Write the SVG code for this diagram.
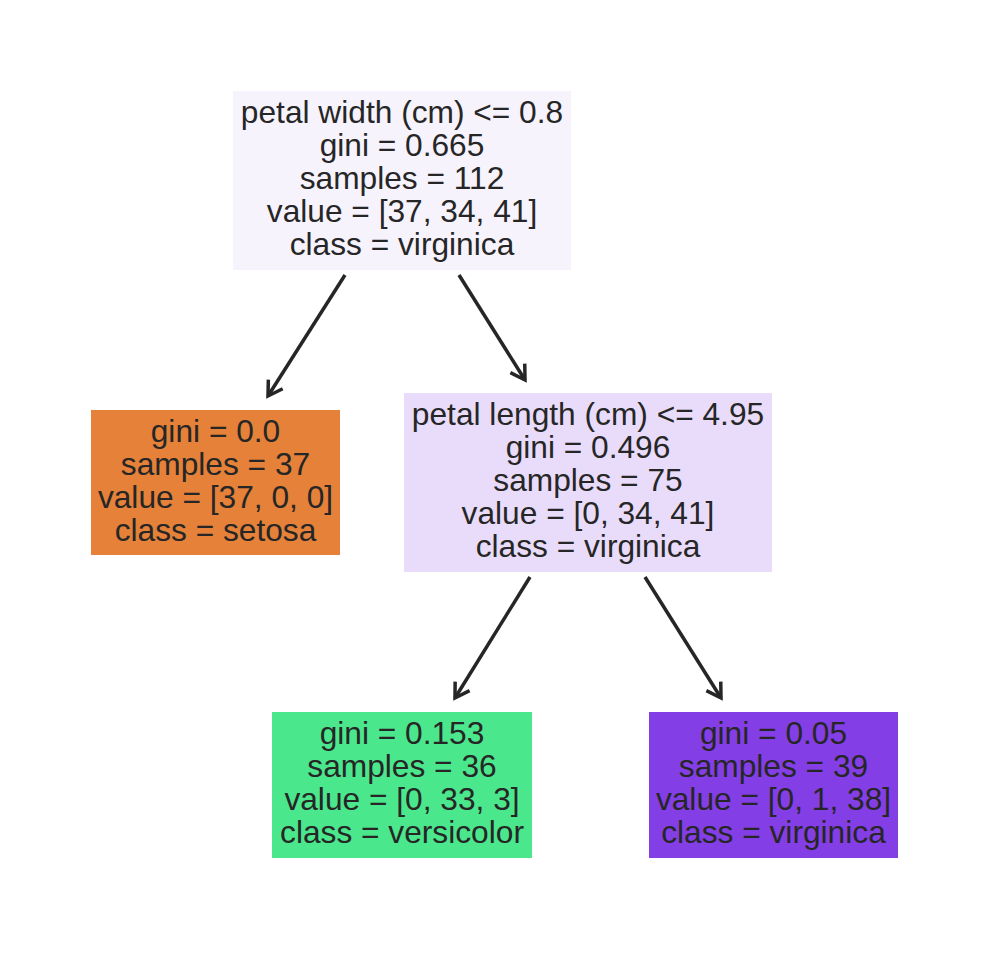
<svg xmlns="http://www.w3.org/2000/svg" width="990" height="966" viewBox="0 0 990 966">
<style>
  .lbl { font-family: "Liberation Sans", Arial, sans-serif; font-size: 31.7px; fill: #262626; text-anchor: middle; }
  .edge { stroke: #262626; stroke-width: 3.5; fill: none; }
</style>
<defs>
  <marker id="arr" markerUnits="userSpaceOnUse" markerWidth="40" markerHeight="40" viewBox="-20 -20 40 40" refX="0" refY="0" orient="auto">
    <path d="M-14,-8.5 L0,0 L-14,8.5" fill="none" stroke="#262626" stroke-width="3.5" stroke-linejoin="miter"/>
  </marker>
</defs>
<rect width="990" height="966" fill="#ffffff"/>
<g id="connectors">
  <line class="edge" x1="345" y1="275" x2="268" y2="396" marker-end="url(#arr)"/>
  <line class="edge" x1="459" y1="275" x2="525" y2="380" marker-end="url(#arr)"/>
  <line class="edge" x1="530" y1="577" x2="455" y2="698" marker-end="url(#arr)"/>
  <line class="edge" x1="645" y1="577" x2="721" y2="698" marker-end="url(#arr)"/>
</g>
<g id="node0">
  <rect x="233" y="91" width="338" height="179" fill="#f6f3fd"/>
  <text class="lbl" x="402" y="123">petal width (cm) &lt;= 0.8</text>
  <text class="lbl" x="402" y="156">gini = 0.665</text>
  <text class="lbl" x="402" y="189">samples = 112</text>
  <text class="lbl" x="402" y="222">value = [37, 34, 41]</text>
  <text class="lbl" x="402" y="255">class = virginica</text>
</g>
<g id="node1">
  <rect x="91" y="410" width="249" height="145" fill="#e58139"/>
  <text class="lbl" x="215.5" y="442">gini = 0.0</text>
  <text class="lbl" x="215.5" y="475">samples = 37</text>
  <text class="lbl" x="215.5" y="508">value = [37, 0, 0]</text>
  <text class="lbl" x="215.5" y="541">class = setosa</text>
</g>
<g id="node2">
  <rect x="404" y="393" width="368" height="179" fill="#e9dcfa"/>
  <text class="lbl" x="588" y="425">petal length (cm) &lt;= 4.95</text>
  <text class="lbl" x="588" y="458">gini = 0.496</text>
  <text class="lbl" x="588" y="491">samples = 75</text>
  <text class="lbl" x="588" y="524">value = [0, 34, 41]</text>
  <text class="lbl" x="588" y="557">class = virginica</text>
</g>
<g id="node3">
  <rect x="272" y="712" width="260" height="146" fill="#4be78c"/>
  <text class="lbl" x="402" y="744">gini = 0.153</text>
  <text class="lbl" x="402" y="777">samples = 36</text>
  <text class="lbl" x="402" y="810">value = [0, 33, 3]</text>
  <text class="lbl" x="402" y="843">class = versicolor</text>
</g>
<g id="node4">
  <rect x="649" y="712" width="249" height="146" fill="#843ee6"/>
  <text class="lbl" x="773.5" y="744">gini = 0.05</text>
  <text class="lbl" x="773.5" y="777">samples = 39</text>
  <text class="lbl" x="773.5" y="810">value = [0, 1, 38]</text>
  <text class="lbl" x="773.5" y="843">class = virginica</text>
</g>
</svg>
